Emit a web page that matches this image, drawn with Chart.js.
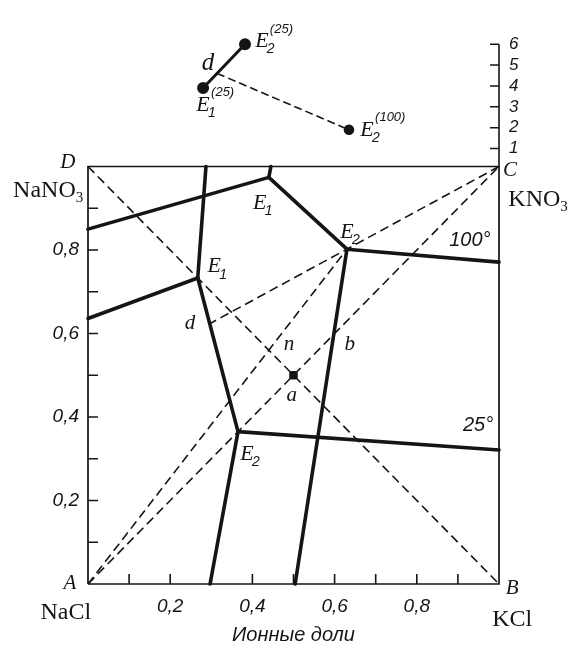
<!DOCTYPE html>
<html>
<head>
<meta charset="utf-8">
<script src="https://cdn.jsdelivr.net/npm/chart.js@4.4.1/dist/chart.umd.min.js"></script>
<style>
  html, body { margin: 0; padding: 0; background: #fff; }
</style>
</head>
<body>
<canvas id="diagram" width="573" height="648"></canvas>
<script>
// ионные доли: x - KCl, y - KNO3
var minorTicks = [0.1, 0.2, 0.3, 0.4, 0.5, 0.6, 0.7, 0.8, 0.9];
var labelledTicks = [0.2, 0.4, 0.6, 0.8];
var insetTicks = [1, 2, 3, 4, 5, 6];

var frame = [[0, 0], [1, 0], [1, 1], [0, 1], [0, 0]];

var e1_25 = [0.267, 0.733];
var e2_25 = [0.365, 0.365];
var e1_100 = [0.44, 0.974];
var e2_100 = [0.63, 0.802];
var pointD = [0.297, 0.624];
var pointA = [0.5, 0.5];

var iso25 = [
    [[0, 0.636], e1_25],
    [[0.287, 1], e1_25],
    [e1_25, e2_25],
    [e2_25, [0.297, 0]],
    [e2_25, [1, 0.321]]
];
var iso100 = [
    [[0, 0.85], e1_100],
    [[0.445, 1], e1_100],
    [e1_100, e2_100],
    [e2_100, [1, 0.771]],
    [e2_100, [0.504, 0]]
];
var dashedRays = [
    [[0, 0], [1, 1]],
    [[0, 1], [1, 0]],
    [[0, 0], e2_100],
    [[1, 1], pointD]
];

// верхняя вставка: x - ионная доля, y - шкала 1..6
var insetE1_25 = [0.28, 3.9];
var insetE2_25 = [0.382, 6.0];
var insetD = [0.314, 4.6];
var insetE2_100 = [0.635, 1.9];

var ink = '#151515';

function seg(points) {
    return points.map(function(p) { return {x: p[0], y: p[1]}; });
}
function isLabelled(v) {
    return labelledTicks.some(function(l) { return Math.abs(l - v) < 1e-6; });
}
function fmt(v) {
    return isLabelled(v) ? v.toFixed(1).replace('.', ',') : '';
}

var datasets = [];
datasets.push({data: seg(frame), borderWidth: 1.7, borderJoinStyle: 'miter'});
iso25.concat(iso100).forEach(function(s) {
    datasets.push({data: seg(s), borderWidth: 3.6, borderCapStyle: 'round'});
});
dashedRays.forEach(function(s) {
    datasets.push({data: seg(s), borderWidth: 1.6, borderDash: [9, 5]});
});
datasets.push({data: seg([pointA]), showLine: false, pointRadius: 5, pointStyle: 'rectRounded'});
datasets.push({data: seg([insetE1_25, insetE2_25]), yAxisID: 'y2', borderWidth: 3, pointRadius: 4.5});
datasets.push({data: seg([insetD, insetE2_100]), yAxisID: 'y2', borderWidth: 1.6, borderDash: [8, 4], pointRadius: [0, 4.5]});

function drawE(ctx, x, y, sub, sup) {
    ctx.font = 'italic 22px "Liberation Serif"';
    ctx.textAlign = 'center';
    ctx.textBaseline = 'middle';
    ctx.fillText('E', x, y);
    ctx.textAlign = 'left';
    ctx.font = 'italic 14px "Liberation Sans"';
    ctx.fillText(sub, x + 5, y + 8);
    if (sup) {
        ctx.font = 'italic 13px "Liberation Sans"';
        ctx.fillText(sup, x + 8, y - 12);
    }
}

function drawFormula(ctx, base, sub, cx, cy) {
    ctx.font = '24px "Liberation Serif"';
    var w1 = ctx.measureText(base).width;
    ctx.font = '15px "Liberation Serif"';
    var w2 = sub ? ctx.measureText(sub).width : 0;
    var x0 = cx - (w1 + w2) / 2;
    ctx.textAlign = 'left';
    ctx.textBaseline = 'middle';
    ctx.font = '24px "Liberation Serif"';
    ctx.fillText(base, x0, cy);
    if (sub) {
        ctx.font = '15px "Liberation Serif"';
        ctx.fillText(sub, x0 + w1, cy + 8);
    }
}

var decor = {
    id: 'decor',
    afterDraw: function(chart) {
        var ctx = chart.ctx;
        var sx = chart.scales.x, sy = chart.scales.y, s2 = chart.scales.y2;
        var left = sx.getPixelForValue(0), right = sx.getPixelForValue(1);
        var bottom = sy.getPixelForValue(0), top = sy.getPixelForValue(1);
        ctx.save();
        ctx.strokeStyle = ink;
        ctx.fillStyle = ink;
        ctx.lineWidth = 1.6;
        ctx.beginPath();
        minorTicks.forEach(function(v) {
            var px = sx.getPixelForValue(v);
            ctx.moveTo(px, bottom);
            ctx.lineTo(px, bottom - 10);
            var py = sy.getPixelForValue(v);
            ctx.moveTo(left, py);
            ctx.lineTo(left + 10, py);
        });
        // шкала вставки
        ctx.moveTo(right, s2.getPixelForValue(6));
        ctx.lineTo(right, top);
        insetTicks.forEach(function(v) {
            var py = s2.getPixelForValue(v);
            ctx.moveTo(right - 9, py);
            ctx.lineTo(right, py);
        });
        ctx.stroke();

        function P(x, y) { return [sx.getPixelForValue(x), sy.getPixelForValue(y)]; }
        function Q(x, y) { return [sx.getPixelForValue(x), s2.getPixelForValue(y)]; }

        ctx.textAlign = 'center';
        ctx.textBaseline = 'middle';
        ctx.font = 'italic 21px "Liberation Serif"';
        [['D', -0.049, 1.01], ['C', 1.027, 0.99], ['A', -0.044, 0.002], ['B', 1.032, -0.01],
         ['d', 0.248, 0.624], ['n', 0.489, 0.574], ['b', 0.637, 0.574], ['a', 0.496, 0.452]]
            .forEach(function(l) {
                var p = P(l[1], l[2]);
                ctx.fillText(l[0], p[0], p[1]);
            });

        var p;
        p = P(-0.097, 0.943); drawFormula(ctx, 'NaNO', '3', p[0], p[1]);
        p = P(1.095, 0.921); drawFormula(ctx, 'KNO', '3', p[0], p[1]);
        p = P(-0.054, -0.069); drawFormula(ctx, 'NaCl', '', p[0], p[1]);
        p = P(1.032, -0.086); drawFormula(ctx, 'KCl', '', p[0], p[1]);

        p = P(0.418, 0.912); drawE(ctx, p[0], p[1], '1');
        p = P(0.630, 0.843); drawE(ctx, p[0], p[1], '2');
        p = P(0.307, 0.760); drawE(ctx, p[0], p[1], '1');
        p = P(0.387, 0.312); drawE(ctx, p[0], p[1], '2');

        ctx.font = 'italic 20px "Liberation Sans"';
        ctx.textAlign = 'center';
        p = P(0.929, 0.824); ctx.fillText('100°', p[0], p[1]);
        p = P(0.949, 0.379); ctx.fillText('25°', p[0], p[1]);

        // подписи вставки
        ctx.font = 'italic 25px "Liberation Serif"';
        p = Q(0.292, 5.1); ctx.fillText('d', p[0], p[1]);
        p = Q(0.423, 6.14); drawE(ctx, p[0], p[1], '2', '(25)');
        p = Q(0.28, 3.1); drawE(ctx, p[0], p[1], '1', '(25)');
        p = Q(0.679, 1.9); drawE(ctx, p[0], p[1], '2', '(100)');
        ctx.restore();
    }
};

var tickFont = {family: 'Liberation Sans', style: 'italic', size: 19};

new Chart(document.getElementById('diagram'), {
    type: 'scatter',
    data: {datasets: datasets},
    options: {
        responsive: false,
        animation: false,
        layout: {padding: {top: 17, left: 0, right: 0, bottom: 0}},
        elements: {
            line: {borderColor: ink, tension: 0},
            point: {radius: 0, backgroundColor: ink, borderColor: ink, borderWidth: 0}
        },
        datasets: {scatter: {showLine: true, clip: false, borderColor: ink, backgroundColor: ink}},
        plugins: {legend: {display: false}, tooltip: {enabled: false}},
        scales: {
            x: {
                type: 'linear', min: 0, max: 1,
                afterBuildTicks: function(s) { s.ticks = minorTicks.map(function(v) { return {value: v}; }); },
                afterFit: function(s) { s.height = 64; },
                grid: {display: false, drawTicks: false},
                border: {display: false},
                ticks: {autoSkip: false, maxRotation: 0, padding: 11, color: ink, font: tickFont, callback: fmt},
                title: {display: true, text: 'Ионные доли', color: ink,
                        font: {family: 'Liberation Sans', style: 'italic', size: 20}, padding: {top: 0, bottom: 1}}
            },
            y: {
                type: 'linear', position: 'left', min: 0, max: 1.35,
                afterBuildTicks: function(s) { s.ticks = minorTicks.map(function(v) { return {value: v}; }); },
                afterFit: function(s) { s.width = 88; },
                grid: {display: false, drawTicks: false},
                border: {display: false},
                ticks: {autoSkip: false, padding: 9, color: ink, font: tickFont, callback: fmt}
            },
            y2: {
                type: 'linear', position: 'right', min: -19.86, max: 7.14,
                afterBuildTicks: function(s) { s.ticks = insetTicks.map(function(v) { return {value: v}; }); },
                afterFit: function(s) { s.width = 74; },
                grid: {display: false, drawTicks: false},
                border: {display: false},
                ticks: {autoSkip: false, padding: 10, color: ink,
                        font: {family: 'Liberation Sans', style: 'italic', size: 17}}
            }
        }
    },
    plugins: [decor]
});
</script>
</body>
</html>
